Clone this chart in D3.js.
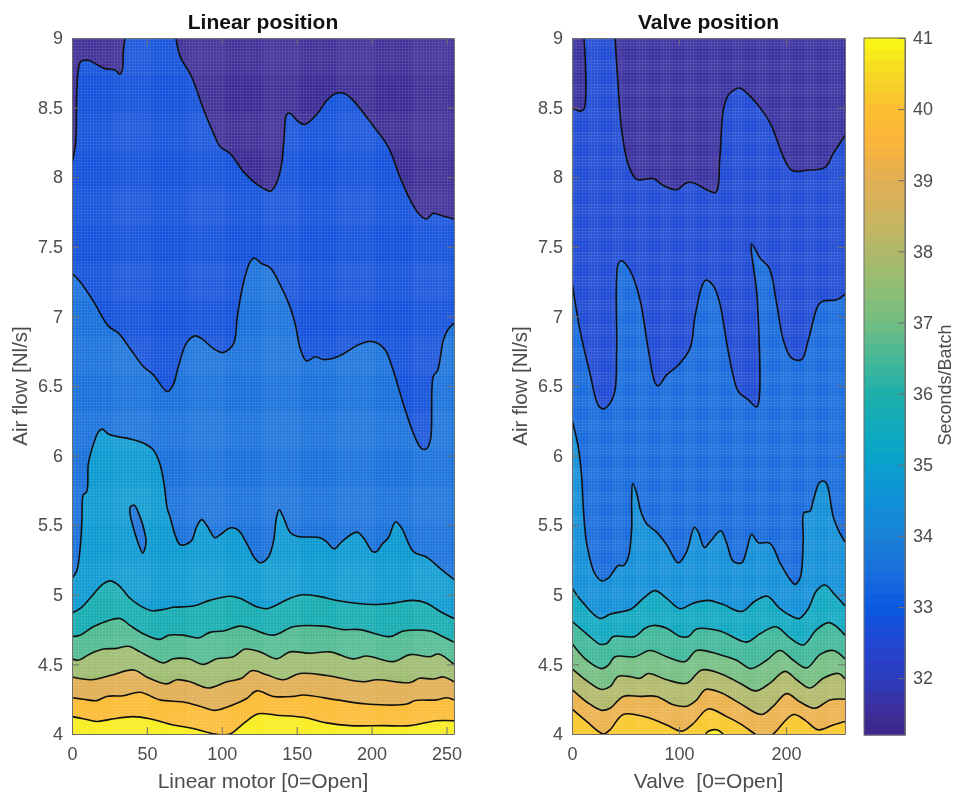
<!DOCTYPE html>
<html lang="en">
<head>
<meta charset="UTF-8">
<title>Linear position / Valve position</title>
<script src="https://d3js.org/d3.v7.min.js"></script>
<style>
body { margin: 0; background: #fff; }
svg { display: block; filter: blur(0.6px); }
text { font-family: "Liberation Sans", sans-serif; fill: #4d4d4d; }
.tick text { font-size: 18px; }
.tick line, .domain { stroke: #6e6e6e; stroke-width: 1; fill: none; }
.title { font-size: 21px; font-weight: bold; fill: #111; text-anchor: middle; }
.label { font-size: 21px; text-anchor: middle; white-space: pre; }
.contour { fill: none; stroke: #111; stroke-width: 1.6; stroke-linejoin: round; }
</style>
</head>
<body>
<script>
// contour lines, [x, air flow] pairs, lowest air flow first
var leftL9 = [[0,4.125],[7.6,4.11],[16.5,4.09],[25.4,4.105],[41,4.125],[52,4.11],[67.6,4.065],[81,4.04],[95.5,4],[105.5,4],[114.4,4.075],[124.4,4.145],[136.6,4.135],[154.4,4.12],[170,4.08],[185.6,4.06],[207.8,4.06],[225.6,4.06],[243.4,4.095],[255,4.095]];
var leftL8 = [[0,4.26],[7.6,4.25],[16.5,4.24],[23.1,4.27],[34.3,4.275],[45.4,4.3],[58.7,4.245],[74.3,4.23],[85.4,4.2],[95.5,4.17],[107.7,4.21],[116.6,4.255],[123.3,4.31],[134.4,4.27],[147.7,4.27],[154.4,4.28],[176.7,4.245],[196.7,4.215],[223.4,4.215],[229,4.24],[243.4,4.245],[250,4.26],[255,4.245]];
var leftL7 = [[0,4.41],[13.1,4.39],[25.4,4.42],[41.4,4.46],[49.8,4.41],[63.2,4.36],[69.9,4.39],[78.8,4.375],[91,4.33],[103.3,4.375],[113.3,4.4],[120,4.455],[130,4.425],[141,4.39],[152.2,4.435],[170,4.42],[194.5,4.375],[203.4,4.39],[225.6,4.37],[232,4.4],[241.2,4.395],[248,4.41],[255,4.375]];
var leftL6 = [[0,4.54],[4.2,4.53],[12,4.575],[20.9,4.61],[29.8,4.615],[37.6,4.63],[45.4,4.59],[54.3,4.54],[61,4.51],[67.6,4.54],[77.7,4.54],[87.7,4.5],[96.6,4.54],[107.7,4.555],[115.5,4.61],[125.5,4.59],[136.6,4.54],[145.5,4.59],[158.9,4.58],[172.2,4.59],[187.8,4.54],[196.7,4.56],[214.5,4.52],[225.6,4.57],[239,4.555],[244.5,4.575],[255,4.5]];
var leftL5 = [[0,4.7],[5.3,4.71],[14.2,4.77],[23.1,4.81],[32,4.83],[38.7,4.78],[47.6,4.72],[58.7,4.68],[64.5,4.71],[74.3,4.71],[84.3,4.69],[92,4.73],[101,4.74],[112,4.775],[118.8,4.76],[134.4,4.71],[147.7,4.77],[167.8,4.775],[181,4.75],[192,4.75],[212.4,4.7],[221.2,4.74],[239,4.74],[245.7,4.71],[255,4.66]];
var leftL4 = [[0,4.87],[5.3,4.9],[12,4.975],[19.8,5.07],[25.4,5.1],[31,5.07],[38.7,4.975],[46.5,4.915],[53.2,4.886],[61,4.895],[67.6,4.91],[81,4.92],[92,4.96],[105.5,4.99],[112,4.975],[123.3,4.915],[130,4.9],[136.6,4.927],[145.5,4.975],[154.4,5],[165.6,4.987],[179,4.955],[201,4.93],[214.5,4.94],[227.9,4.96],[236.8,4.94],[245.7,4.88],[255,4.83]];
var leftL3 = [[0,5.12],[3.1,5.17],[5.3,5.32],[6.7,5.56],[6.7,5.62],[7.6,5.72],[9.8,5.74],[10.9,5.94],[13.1,6.04],[17.6,6.17],[20.2,6.19],[24.3,6.155],[28.7,6.14],[38.7,6.12],[47.6,6.09],[54.3,6.04],[58.7,5.94],[61.4,5.8],[63.6,5.62],[65.4,5.56],[68.8,5.43],[72.1,5.36],[75.4,5.36],[79.9,5.39],[83.2,5.49],[86.6,5.54],[89.9,5.5],[95.5,5.41],[98.8,5.43],[105.5,5.48],[111,5.465],[116.6,5.37],[122.2,5.26],[125.5,5.23],[131,5.27],[134.4,5.38],[136.6,5.56],[138.4,5.61],[141,5.56],[145.5,5.45],[150,5.42],[165.6,5.41],[170,5.38],[174.9,5.33],[180,5.38],[190,5.45],[194.5,5.41],[200.7,5.31],[203.4,5.31],[206.7,5.36],[211.2,5.41],[216,5.525],[220,5.48],[227.9,5.31],[236.8,5.27],[245.7,5.19],[255,5.11]];
var leftIsland = [[38.7,5.63],[41.4,5.645],[45.4,5.56],[48.7,5.44],[49.4,5.37],[47.2,5.3],[44.9,5.35],[41.4,5.465],[38.7,5.585],[38.7,5.63]];
var leftL2 = [[0,7.31],[5.3,7.25],[14.2,7.11],[24.3,6.93],[31,6.88],[38.7,6.77],[47.6,6.64],[54.3,6.58],[63.6,6.46],[67.6,6.51],[71,6.64],[76.5,6.81],[82,6.86],[86.6,6.84],[94.3,6.77],[100.4,6.74],[105.5,6.77],[108.4,6.82],[110.4,7],[114.4,7.24],[118.8,7.39],[121.5,7.42],[126.6,7.38],[132.2,7.35],[138.8,7.23],[145.5,7.07],[148.9,6.95],[152.6,6.76],[156.6,6.68],[162.2,6.71],[167.8,6.69],[174.5,6.7],[181,6.73],[190,6.79],[197.8,6.82],[203.4,6.81],[209,6.76],[214.5,6.61],[221.2,6.37],[227.9,6.16],[233.4,6.05],[236.8,6.05],[239.4,6.12],[241.2,6.57],[244,6.61],[247.9,6.83],[251.2,6.91],[255,6.95]];
var leftL1a = [[0,8.1],[2.4,8.24],[3.1,8.58],[4.2,8.77],[5.8,8.83],[10.9,8.84],[16.5,8.81],[22,8.78],[28.7,8.77],[32,8.74],[33.6,8.77],[34.3,8.91],[35.4,9]];
var leftL1b = [[69.4,9],[72.1,8.87],[79.9,8.72],[87.7,8.49],[95.5,8.29],[98.8,8.22],[105.5,8.17],[114.4,8.04],[121,7.97],[127.7,7.92],[132.6,7.9],[136.6,7.96],[140,8.1],[141.5,8.27],[143.3,8.45],[145.5,8.46],[151,8.4],[155.5,8.38],[163.3,8.45],[170,8.55],[175.6,8.6],[182.2,8.6],[187.8,8.55],[201,8.37],[211,8.22],[219,8],[225.6,7.84],[232,7.73],[236.8,7.7],[241,7.74],[248,7.72],[255,7.7]];

var rightL10 = [[124.8,4],[127.3,4.02],[135,4.03],[141.3,4]];
var rightL9 = [[0,4.18],[13.7,4.09],[29.3,4],[35.5,4.03],[47.9,4.14],[69.7,4.12],[88.4,4.065],[102.4,4.02],[113.3,4.075],[127.3,4.18],[144.5,4.125],[156.9,4.075],[170.9,4],[179,3.96],[188,4],[206.7,4.14],[217.6,4.1],[230,4.03],[244,4.065],[255,4.09]];
var rightL8 = [[0,4.32],[13.7,4.23],[27.7,4.17],[35.5,4.185],[47.9,4.27],[63.5,4.27],[79,4.27],[94.6,4.21],[107.1,4.2],[116.4,4.245],[124.8,4.32],[138.2,4.3],[156.9,4.22],[177.1,4.14],[188,4.2],[200.5,4.29],[213,4.23],[227,4.185],[241,4.245],[255,4.25]];
var rightL7 = [[0,4.47],[15.2,4.375],[27.7,4.32],[35.5,4.34],[43.3,4.415],[55.7,4.41],[63.5,4.4],[71.3,4.435],[88.4,4.39],[107.1,4.365],[121.1,4.46],[138.2,4.435],[156.9,4.365],[171.5,4.31],[184.9,4.365],[198.9,4.45],[209.8,4.39],[222.3,4.33],[234.7,4.4],[248.8,4.435],[255,4.395]];
var rightL6 = [[0,4.65],[13.7,4.53],[27.7,4.47],[33.9,4.495],[40.2,4.555],[58.8,4.555],[72.9,4.6],[88.4,4.555],[105.5,4.52],[116.4,4.6],[138.2,4.57],[153.8,4.53],[167.2,4.47],[181.8,4.53],[194.3,4.6],[206.7,4.53],[219.2,4.475],[231.6,4.57],[244,4.6],[255,4.54]];
var rightL5 = [[0,4.81],[13.7,4.72],[26.2,4.645],[32.4,4.65],[38.6,4.7],[58.8,4.7],[68.2,4.76],[76,4.78],[88.4,4.76],[100.9,4.7],[108.7,4.7],[116.4,4.755],[138.2,4.74],[163.1,4.66],[175.6,4.72],[190.5,4.77],[203.6,4.69],[216,4.64],[228.5,4.75],[240.3,4.8],[255,4.71]];
var rightL4 = [[0,5.05],[10.6,4.94],[26.2,4.83],[35.5,4.86],[55.7,4.9],[66.6,4.975],[77.7,5.03],[88.4,4.975],[100.9,4.9],[113.3,4.94],[127.3,4.96],[141.3,4.93],[158.5,4.88],[171,4.955],[182.4,4.99],[194.3,4.9],[206.7,4.84],[212.3,4.83],[220.7,4.9],[228.5,5.03],[236.3,5.07],[245.6,5],[255,4.92]];
var rightL3 = [[0,6.26],[5.9,6.06],[9,5.85],[10.6,5.62],[13.7,5.37],[21.5,5.15],[27.7,5.1],[33.9,5.12],[43.3,5.21],[48,5.21],[52.6,5.27],[55.7,5.47],[55.7,5.68],[56.7,5.8],[60.4,5.73],[63.5,5.62],[65,5.585],[69.7,5.51],[79,5.45],[88.4,5.36],[99.3,5.23],[107.1,5.31],[114.3,5.485],[118,5.45],[123.6,5.34],[128.9,5.38],[138.9,5.46],[144.5,5.37],[150.7,5.24],[158.5,5.23],[163.1,5.32],[167.8,5.435],[174,5.375],[184.9,5.37],[194.3,5.23],[203.6,5.11],[208.3,5.075],[213,5.12],[216,5.39],[216.7,5.59],[222.3,5.6],[225.4,5.68],[231.6,5.81],[236.9,5.81],[242.5,5.62],[244,5.56],[248.8,5.465],[255,5.38]];
var rightL2 = [[0,7.25],[7.5,6.9],[16.8,6.59],[24.6,6.36],[29.3,6.335],[35.5,6.375],[40.2,6.47],[41.7,6.76],[43.3,7.38],[46.4,7.4],[54.2,7.33],[63.5,7.12],[71.3,6.76],[77.7,6.52],[80.6,6.5],[88.4,6.58],[99.3,6.65],[110.2,6.77],[114.9,7],[121.1,7.21],[124.8,7.26],[132,7.22],[138.2,7.09],[144.5,6.81],[150.7,6.57],[155.4,6.46],[164.7,6.4],[172.5,6.35],[174.7,6.4],[173.1,7.12],[167.8,7.52],[175.6,7.42],[184.3,7.345],[191.2,7.09],[197.4,6.83],[205.2,6.7],[214.5,6.69],[220.7,6.83],[230,7.08],[234.8,7.11],[247.2,7.12],[255,7.16]];
var rightL1a = [[0,8.5],[7.5,8.475],[11.2,8.49],[12.8,8.58],[12.5,8.82],[11.2,9]];
var rightL1b = [[40.2,9],[42.3,8.75],[46.4,8.34],[52.6,8.09],[60.4,7.985],[76,7.99],[85.4,7.94],[97.8,7.91],[107.1,7.96],[113.3,7.96],[125.8,7.91],[134.2,7.89],[138.2,8.15],[141.3,8.48],[146,8.59],[152.2,8.63],[156.9,8.64],[172.5,8.53],[185,8.39],[205.2,8.05],[219.2,8.05],[236.3,8.07],[244,8.17],[255,8.3]];

// seconds/batch shown in each band, bottom band first
var leftBase = 40.8;
var leftBandValues = [39.9, 39, 37.7, 36.6, 35.8, 34.8, 33.6, 33.6, 32.8, 31.5, 31.5];
var rightBase = 40.2;
var rightBandValues = [39.2, 38, 37, 36.4, 35.4, 34.4, 33.4, 32.6, 31.6, 31.6, 40.8];

// colour ramp
var rampValues = [31.2,31.5,32,32.5,33,33.5,34,34.5,35,35.5,36,36.5,37,37.5,38,38.5,39,39.5,40,40.5,41];
var rampColors = ["#3c2887","#3c2d96","#2d3cbe","#2346d2","#0a5ae1","#196edc","#1982d7","#0f91d7","#0aa0cd","#0faabe","#1eafaa","#46b996","#73be82","#91be73","#afb969","#cdb45f","#e1af55","#fab43c","#fcbe32","#f5d723","#fafa14"];

var yTicks = [4,4.5,5,5.5,6,6.5,7,7.5,8,8.5,9];
var leftXTicks = [0,50,100,150,200,250];
var rightXTicks = [0,100,200];
var barTicks = [32,33,34,35,36,37,38,39,40,41];

var width = 956, height = 796;
var plotTop = 38, plotBottom = 734;

var svg = d3.select("body").append("svg").attr("width", width).attr("height", height);
var defs = svg.append("defs");

var color = d3.scaleLinear().domain(rampValues).range(rampColors);

// the fine mesh that shows through the fills
function meshPattern(id, step, coarse) {
    var p = defs.append("pattern").attr("id", id).attr("patternUnits", "userSpaceOnUse")
        .attr("width", coarse).attr("height", coarse);
    d3.range(0, coarse, step).forEach(function(v) {
        p.append("rect").attr("x", v).attr("y", 0).attr("width", 1).attr("height", coarse).attr("fill", "#fff").attr("opacity", 0.07);
        p.append("rect").attr("x", 0).attr("y", v).attr("width", coarse).attr("height", 1).attr("fill", "#fff").attr("opacity", 0.07);
    });
    p.append("rect").attr("x", coarse / 2).attr("y", 0).attr("width", coarse / 2).attr("height", coarse).attr("fill", "#fff").attr("opacity", 0.03);
    p.append("rect").attr("x", 0).attr("y", coarse / 2).attr("width", coarse).attr("height", coarse / 2).attr("fill", "#fff").attr("opacity", 0.03);
}
meshPattern("meshLeft", 3, 75);
meshPattern("meshRight", 3, 24);

function drawPanel(opt) {
    var x = d3.scaleLinear().domain([0, 255]).range([opt.left, opt.right]);
    var y = d3.scaleLinear().domain([4, 9]).range([plotBottom, plotTop]);
    var w = opt.right - opt.left, h = plotBottom - plotTop;

    defs.append("clipPath").attr("id", opt.id).append("rect")
        .attr("x", opt.left).attr("y", plotTop).attr("width", w).attr("height", h);

    var line = d3.line().x(function(d) { return x(d[0]); }).y(function(d) { return y(d[1]); })
        .curve(d3.curveCatmullRom.alpha(0.5));

    var g = svg.append("g").attr("clip-path", "url(#" + opt.id + ")");
    g.append("rect").attr("x", opt.left).attr("y", plotTop).attr("width", w).attr("height", h)
        .attr("fill", color(opt.base));

    // paint from the bottom band up, each region covers everything above its line
    opt.lines.forEach(function(pts, i) {
        var first = pts[0], last = pts[pts.length - 1], tail = "";
        if (last[0] === 255) tail += "L" + x(255) + "," + y(9);
        if (first[0] === 0) tail += "L" + x(0) + "," + y(9);
        g.append("path").attr("d", line(pts) + tail + "Z").attr("fill", color(opt.values[i]));
    });
    g.append("rect").attr("x", opt.left).attr("y", plotTop).attr("width", w).attr("height", h)
        .attr("fill", "url(#" + opt.mesh + ")");
    g.selectAll(".contour").data(opt.lines).enter().append("path")
        .attr("class", "contour").attr("d", line);

    svg.append("g").attr("transform", "translate(0," + plotBottom + ")")
        .call(d3.axisBottom(x).tickValues(opt.xTicks).tickSizeInner(-7).tickSizeOuter(0).tickPadding(13).tickFormat(d3.format("d")));
    svg.append("g").attr("transform", "translate(" + opt.left + ",0)")
        .call(d3.axisLeft(y).tickValues(yTicks).tickSizeInner(-7).tickSizeOuter(0).tickPadding(9).tickFormat(d3.format("")));
    svg.append("g").attr("transform", "translate(0," + plotTop + ")")
        .call(d3.axisTop(x).tickValues(opt.xTicks).tickSizeInner(-7).tickSizeOuter(0).tickFormat(""));
    svg.append("g").attr("transform", "translate(" + opt.right + ",0)")
        .call(d3.axisRight(y).tickValues(yTicks).tickSizeInner(-7).tickSizeOuter(0).tickFormat(""));

    svg.append("text").attr("class", "title").attr("x", (opt.left + opt.right) / 2).attr("y", 29).text(opt.title);
    svg.append("text").attr("class", "label").attr("x", (opt.left + opt.right) / 2).attr("y", 788).text(opt.xLabel);
    svg.append("text").attr("class", "label").style("font-size", "20.5px")
        .attr("transform", "translate(" + (opt.left - 45) + ",386) rotate(-90)").text("Air flow [Nl/s]");
}

drawPanel({
    id: "clipLeft", mesh: "meshLeft", left: 72, right: 454, title: "Linear position", xLabel: "Linear motor [0=Open]",
    xTicks: leftXTicks, base: leftBase,
    lines: [leftL9, leftL8, leftL7, leftL6, leftL5, leftL4, leftL3, leftIsland, leftL2, leftL1a, leftL1b],
    values: leftBandValues
});
drawPanel({
    id: "clipRight", mesh: "meshRight", left: 572, right: 845, title: "Valve position", xLabel: "Valve  [0=Open]",
    xTicks: rightXTicks, base: rightBase,
    lines: [rightL9, rightL8, rightL7, rightL6, rightL5, rightL4, rightL3, rightL2, rightL1a, rightL1b, rightL10],
    values: rightBandValues
});

// colour bar
var barLeft = 864, barRight = 905, barTop = 38, barBottom = 735;
var barScale = d3.scaleLinear().domain([31.2, 41]).range([barBottom, barTop]);
var barSteps = d3.range(64).map(function(i) { return 31.2 + i * (41 - 31.2) / 64; });
svg.append("g").selectAll("rect").data(barSteps).enter().append("rect")
    .attr("x", barLeft).attr("width", barRight - barLeft)
    .attr("y", function(d) { return barScale(d + (41 - 31.2) / 64) - 0.5; })
    .attr("height", (barBottom - barTop) / 64 + 1)
    .attr("fill", function(d) { return color(d + (41 - 31.2) / 128); });
svg.append("rect").attr("x", barLeft).attr("y", barTop).attr("width", barRight - barLeft).attr("height", barBottom - barTop)
    .attr("fill", "none").attr("stroke", "#6e6e6e");
svg.append("g").attr("transform", "translate(" + barRight + ",0)")
    .call(d3.axisRight(barScale).tickValues(barTicks).tickSizeInner(-7).tickSizeOuter(0).tickPadding(8).tickFormat(d3.format("d")));
svg.append("text").attr("class", "label").style("font-size", "18px")
    .attr("transform", "translate(951,385) rotate(-90)").text("Seconds/Batch");
</script>
</body>
</html>
